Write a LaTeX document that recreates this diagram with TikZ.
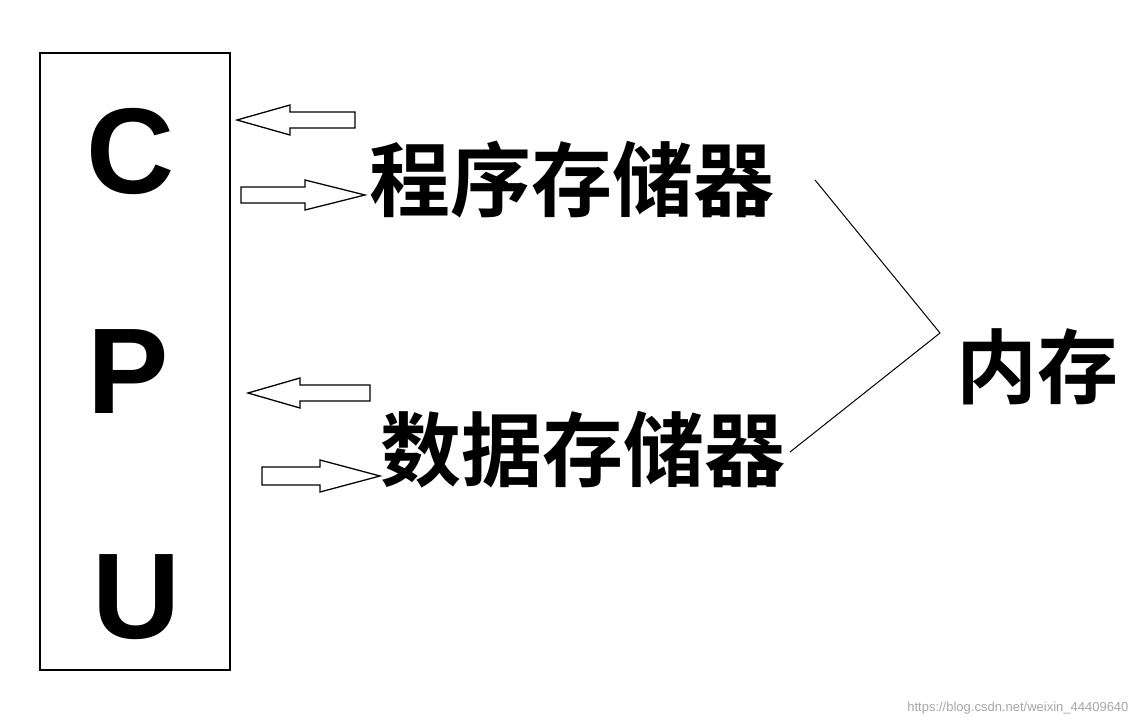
\documentclass[tikz,border=0pt]{standalone}
\usepackage{fontspec}
\newfontfamily\cjk{Noto Sans CJK SC Bold}
\setsansfont{Liberation Sans}
\begin{document}
\begin{tikzpicture}[x=1pt,y=-1pt,
  big/.style={font=\cjk\fontsize{81}{82}\selectfont,inner sep=0},
  letter/.style={font=\sffamily\bfseries\fontsize{122}{126}\selectfont,inner sep=0},
  blk/.style={draw,line width=1.3pt,fill=white}]
\useasboundingbox (0,0) rectangle (1139,725);
\draw[line width=1.5pt] (40,53) rectangle (230,670);
\node[letter] (c) at (131,152) {C};
\node[letter] (p) at (128,372) {P};
\node[letter] (u) at (137,597) {U};
\node[big] (prog) at (572,180) {程序存储器};
\node[big] (data) at (583,450) {数据存储器};
\node[big] (mem) at (1037,367) {内存};
% left arrows
\draw[blk] (355,112)--(290,112)--(290,105)--(237,120)--(290,135)--(290,128)--(355,128)--cycle;
\draw[blk] (370,385)--(300,385)--(300,378)--(248,393)--(300,408)--(300,401)--(370,401)--cycle;
% right arrows
\draw[blk] (241,187)--(305,187)--(305,180)--(365,195)--(305,210)--(305,203)--(241,203)--cycle;
\draw[blk] (262,467)--(320,467)--(320,460)--(380,476)--(320,492)--(320,485)--(262,485)--cycle;
\coordinate (j) at (940,333);
\draw[line width=1pt] (815,180)--(j)--(790,452);
\node[font=\sffamily\fontsize{13}{14}\selectfont,text=gray!70,anchor=east] (wm) at (1132,708) {https://blog.csdn.net/weixin\_44409640};
\end{tikzpicture}
\end{document}
